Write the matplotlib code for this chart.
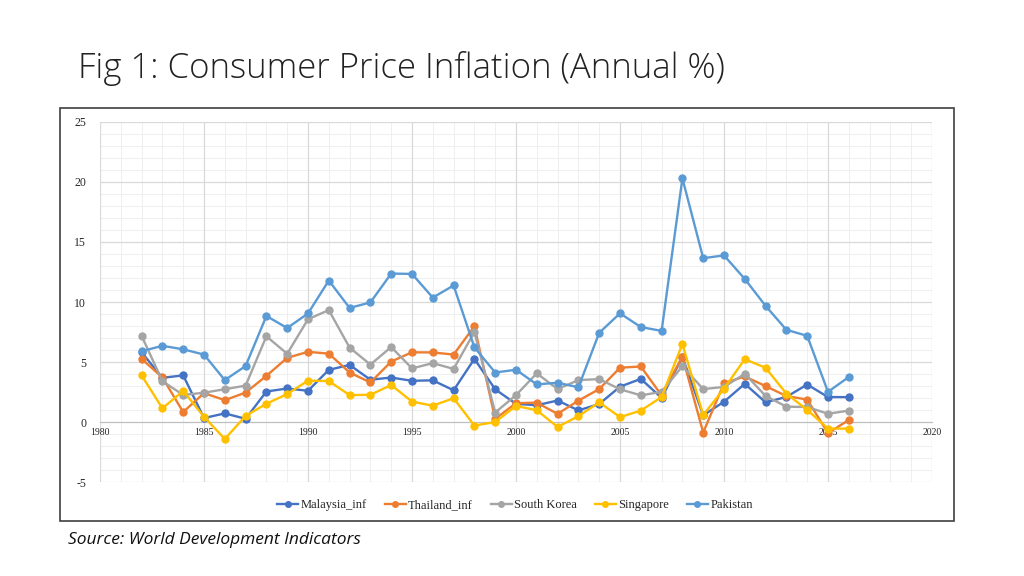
import matplotlib
matplotlib.use("Agg")
import matplotlib.pyplot as plt
import numpy as np
from matplotlib.patches import Rectangle
from matplotlib.ticker import MultipleLocator

plt.rcParams["axes.unicode_minus"] = False

years = list(range(1982, 2017))
malaysia = [5.82, 3.70, 3.90, 0.35, 0.74, 0.29, 2.56, 2.81, 2.62, 4.36, 4.77, 3.54, 3.72, 3.45, 3.49, 2.66, 5.27, 2.74, 1.53, 1.42, 1.81, 0.99, 1.52, 2.96, 3.61, 2.03, 5.44, 0.58, 1.71, 3.20, 1.66, 2.11, 3.14, 2.10, 2.09]
thailand = [5.27, 3.73, 0.85, 2.43, 1.84, 2.47, 3.86, 5.36, 5.86, 5.71, 4.14, 3.31, 5.05, 5.82, 5.81, 5.63, 7.99, 0.28, 1.59, 1.63, 0.70, 1.80, 2.76, 4.54, 4.64, 2.24, 5.47, -0.85, 3.25, 3.81, 3.01, 2.18, 1.89, -0.90, 0.19]
south_korea = [7.19, 3.42, 2.27, 2.46, 2.75, 3.05, 7.15, 5.70, 8.57, 9.33, 6.21, 4.80, 6.26, 4.48, 4.92, 4.44, 7.51, 0.81, 2.26, 4.07, 2.76, 3.51, 3.59, 2.75, 2.24, 2.53, 4.67, 2.76, 2.94, 4.03, 2.19, 1.30, 1.27, 0.71, 0.97]
singapore = [3.90, 1.16, 2.61, 0.46, -1.39, 0.53, 1.54, 2.35, 3.46, 3.43, 2.26, 2.29, 3.10, 1.72, 1.38, 2.00, -0.27, 0.02, 1.36, 1.00, -0.39, 0.51, 1.66, 0.43, 0.97, 2.10, 6.52, 0.60, 2.80, 5.25, 4.53, 2.38, 1.03, -0.52, -0.53]
pakistan = [5.91, 6.36, 6.07, 5.63, 3.51, 4.68, 8.84, 7.84, 9.05, 11.79, 9.51, 9.97, 12.37, 12.34, 10.37, 11.38, 6.23, 4.14, 4.37, 3.15, 3.29, 2.91, 7.44, 9.06, 7.92, 7.60, 20.29, 13.65, 13.88, 11.92, 9.68, 7.69, 7.19, 2.53, 3.77]

series = [
    ("Malaysia_inf", malaysia, "#4472C4"),
    ("Thailand_inf", thailand, "#ED7D31"),
    ("South Korea", south_korea, "#A5A5A5"),
    ("Singapore", singapore, "#FFC000"),
    ("Pakistan", pakistan, "#5B9BD5"),
]

W, H = 1024, 576
fig = plt.figure(figsize=(W / 100, H / 100), dpi=100)
fig.patch.set_facecolor("white")

# chart border box
fig.patches.append(Rectangle((60 / W, 1 - 521 / H), (954 - 60) / W, (521 - 108) / H,
                             transform=fig.transFigure, fill=False,
                             edgecolor="#404040", linewidth=1.2))

ax = fig.add_axes([100 / W, 1 - 482.4 / H, 832 / W, (482.4 - 121.7) / H])
x0, x1, y0, y1 = 1980, 2020, -5, 25
ax.set_xlim(x0, x1)
ax.set_ylim(y0, y1)

ax.xaxis.set_major_locator(MultipleLocator(5))
ax.yaxis.set_major_locator(MultipleLocator(5))

# gridlines behind everything (minor every 1, major every 5)
for v in np.arange(y0, y1 + 1, 1):
    major = (v % 5 == 0)
    ax.axhline(v, color="#d9d9d9" if major else "#efefef",
               linewidth=0.9 if major else 0.7, zorder=0.3 if major else 0.2)
for v in np.arange(x0, x1 + 1, 1):
    major = (v % 5 == 0)
    ax.axvline(v, color="#d9d9d9" if major else "#efefef",
               linewidth=0.9 if major else 0.7, zorder=0.3 if major else 0.2)

for s in ["top", "right", "left"]:
    ax.spines[s].set_visible(False)
ax.spines["bottom"].set_position(("data", 0))
ax.spines["bottom"].set_color("#bfbfbf")
ax.spines["bottom"].set_zorder(0.5)
ax.tick_params(which="both", length=0)
ax.tick_params(axis="x", pad=4, labelsize=7)
ax.tick_params(axis="y", pad=10, labelsize=8.5)
for lbl in ax.get_xticklabels() + ax.get_yticklabels():
    lbl.set_fontfamily("Liberation Serif")
    lbl.set_color("#262626")

for name, vals, color in series:
    ax.plot(years, vals, color=color, linewidth=1.7, marker="o",
            markersize=5, label=name, zorder=3)

leg = ax.legend(loc="center", bbox_to_anchor=(515 / W, 1 - 505 / H),
                bbox_transform=fig.transFigure, ncol=5, frameon=False,
                prop={"family": "Liberation Serif", "size": 9},
                handlelength=1.7, columnspacing=1.4, handletextpad=0.2,
                markerscale=0.8)
for t in leg.get_texts():
    t.set_color("#262626")

fig.text(78 / W, 1 - 68 / H, "Fig 1: Consumer Price Inflation (Annual %)",
         fontsize=25, family="Open Sans", fontweight="light", va="center",
         ha="left", color="#222222")
fig.text(68 / W, 1 - 540 / H, "Source: World Development Indicators",
         fontsize=12.5, family="Open Sans", style="italic", va="center",
         ha="left", color="#111111")

fig.savefig("out.png", dpi=100, facecolor="white")
